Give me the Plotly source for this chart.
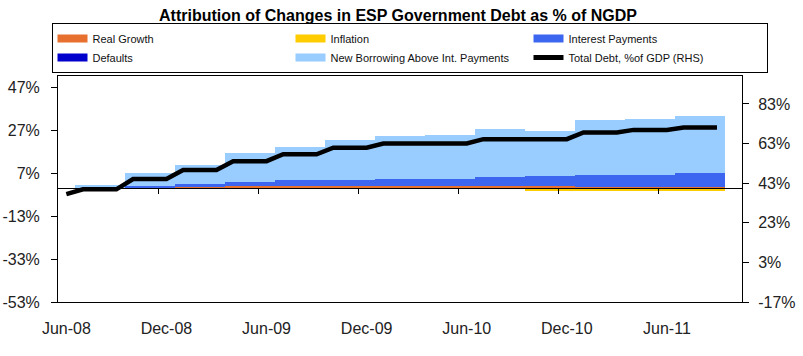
import plotly.graph_objects as go

# ---- data (monthly categories, Jun-08 .. Oct-11) ----
months = ["Jun-08","Jul-08","Aug-08","Sep-08","Oct-08","Nov-08","Dec-08",
          "Jan-09","Feb-09","Mar-09","Apr-09","May-09","Jun-09","Jul-09",
          "Aug-09","Sep-09","Oct-09","Nov-09","Dec-09","Jan-10","Feb-10",
          "Mar-10","Apr-10","May-10","Jun-10","Jul-10","Aug-10","Sep-10",
          "Oct-10","Nov-10","Dec-10","Jan-11","Feb-11","Mar-11","Apr-11",
          "May-11","Jun-11","Jul-11","Aug-11","Sep-11","Oct-11"]

real_growth = [0, 0, 0, 0, 0, 0, 0, 0.8, 0.8, 0.8,
               1.0, 1.0, 1.0, 1.0, 1.0, 1.0, 1.0, 1.0, 1.0, 1.0,
               1.0, 1.0, 1.0, 1.0, 1.0, 1.0, 1.0, 1.0, 1.0, 1.0,
               1.0, 0.6, 0.6, 0.6, 0.6, 0.6, 0.6, 0.6, 0.6, 0.6, None]
inflation = [0, 0, 0, 0, 0, 0, 0, 0, 0, 0,
             0, 0, 0, 0, 0, 0, 0, 0, 0, 0,
             0, 0, 0, 0, 0, 0, 0, 0, -1.2, -1.2,
             -1.2, -1.2, -1.2, -1.2, -1.2, -1.2, -1.2, -1.2, -1.2, -1.2, None]
interest = [0, 0.1, 0.1, 0.1, 0.9, 0.9, 0.9, 1.2, 1.2, 1.2,
            2.1, 2.1, 2.1, 2.9, 2.9, 2.9, 2.9, 2.9, 2.9, 3.3,
            3.3, 3.3, 3.3, 3.3, 3.3, 4.3, 4.3, 4.3, 5.0, 5.0,
            5.0, 5.5, 5.5, 5.5, 5.5, 5.5, 5.5, 6.6, 6.6, 6.6, None]
defaults = [0, 0, 0, 0, 0, 0, 0, 0, 0, 0,
            0, 0, 0, 0, 0, 0, 0, 0, 0, 0,
            0, 0, 0, 0, 0, 0, 0, 0, 0, 0,
            0, 0, 0, 0, 0, 0, 0, 0, 0, 0, None]
new_borrowing = [0, 1.4, 1.4, 1.4, 6.4, 6.4, 6.4, 9.0, 9.0, 9.0,
                 13.5, 13.5, 13.5, 15.2, 15.2, 15.2, 18.9, 18.9, 18.9, 20.2,
                 20.2, 20.2, 20.7, 20.7, 20.7, 22.3, 22.3, 22.3, 20.9, 20.9,
                 20.9, 25.7, 25.7, 25.7, 26.2, 26.2, 26.2, 26.6, 26.6, 26.6, None]
total_debt = [37.5, 39.9, 39.9, 39.9, 45.1, 45.1, 45.1, 49.6, 49.6, 49.6,
              54.1, 54.1, 54.1, 57.6, 57.6, 57.6, 60.9, 60.9, 60.9, 63.0,
              63.0, 63.0, 63.0, 63.0, 63.0, 65.2, 65.2, 65.2, 65.2, 65.2,
              65.2, 68.6, 68.6, 68.6, 69.9, 69.9, 69.9, 71.1, 71.1, 71.1, None]

left_ticks = [-53, -33, -13, 7, 27, 47]
right_ticks = [-17, 3, 23, 43, 63, 83]
label_every = 6

series = [
    ("Real Growth", real_growth, "#E8702F"),
    ("Inflation", inflation, "#FFCC00"),
    ("Interest Payments", interest, "#3D66F0"),
    ("Defaults", defaults, "#0000CC"),
    ("New Borrowing Above Int. Payments", new_borrowing, "#99CCFF"),
]

FONT = "Liberation Sans, Arial, sans-serif"
xs = list(range(len(months)))

fig = go.Figure()
for name, vals, col in series:
    fig.add_trace(go.Bar(x=xs, y=vals, name=name, marker=dict(color=col, line=dict(width=0)),
                         width=1.0, showlegend=False, hoverinfo="name+y"))

fig.add_trace(go.Scatter(x=xs, y=total_debt, name="Total Debt, %of GDP (RHS)",
                         mode="lines", line=dict(color="black", width=4.5),
                         xaxis="x2", yaxis="y2", showlegend=False))

# legend entries (wide swatches like the original)
for name, vals, col in series:
    fig.add_trace(go.Scatter(x=[None], y=[None], name=name, mode="lines",
                             line=dict(color=col, width=8)))
fig.add_trace(go.Scatter(x=[None], y=[None], name="Total Debt, %of GDP (RHS)", mode="lines",
                         line=dict(color="black", width=5)))

n = len(months)
xr = [-0.5, n - 0.5]
lab_idx = xs[::label_every]

fig.update_layout(
    width=803, height=356,
    margin=dict(l=58, r=61, t=76, b=54, autoexpand=False),
    paper_bgcolor="white", plot_bgcolor="white",
    barmode="relative", bargap=0,
    font=dict(family=FONT, color="#222222"),
    title=dict(text="<b>Attribution of Changes in ESP Government Debt as % of NGDP</b>",
               x=398 / 803, xanchor="center", y=1 - 15 / 356, yanchor="middle",
               font=dict(size=16, color="black", family=FONT)),
    showlegend=True,
    legend=dict(orientation="h", x=-0.0095, xanchor="left", y=1 + (76 - 23) / 226, yanchor="top",
                bgcolor="white", bordercolor="black", borderwidth=1,
                font=dict(size=11, family=FONT, color="#111111"),
                entrywidth=193, entrywidthmode="pixels", traceorder="normal",
                itemsizing="trace"),
    xaxis=dict(range=xr, tickmode="array", tickvals=lab_idx,
               ticktext=[months[i] for i in lab_idx],
               showgrid=False, zeroline=False, ticks="", ticklabelstandoff=12,
               showline=True, mirror=True, linecolor="black", linewidth=1,
               tickfont=dict(size=16, color="#222222")),
    xaxis2=dict(range=xr, overlaying="x", anchor="free", position=53 / 105.45,
                tickmode="array", tickvals=[i - 0.5 for i in lab_idx[1:]],
                ticks="outside", ticklen=5, tickcolor="black", showticklabels=False,
                showgrid=False, zeroline=False, showline=True, linecolor="black", linewidth=1),
    yaxis=dict(range=[-53, 52.45], tickmode="array", tickvals=left_ticks,
               ticktext=[f"{v}%" for v in left_ticks],
               ticks="outside", ticklen=6, tickcolor="black",
               showgrid=False, zeroline=False, showline=True, mirror=True,
               linecolor="black", linewidth=1, ticklabelstandoff=8,
               tickfont=dict(size=16, color="#222222")),
    yaxis2=dict(range=[-17, 97.1], overlaying="y", side="right", anchor="x",
                tickmode="array", tickvals=right_ticks,
                ticktext=[f"{v}%" for v in right_ticks],
                ticks="outside", ticklen=6, tickcolor="black",
                showgrid=False, zeroline=False, showline=True,
                linecolor="black", linewidth=1, ticklabelstandoff=6,
                tickfont=dict(size=16, color="#222222")),
)

fig.write_html("out.html", config={"displayModeBar": False},
               post_script="document.body.style.margin='0px';")
